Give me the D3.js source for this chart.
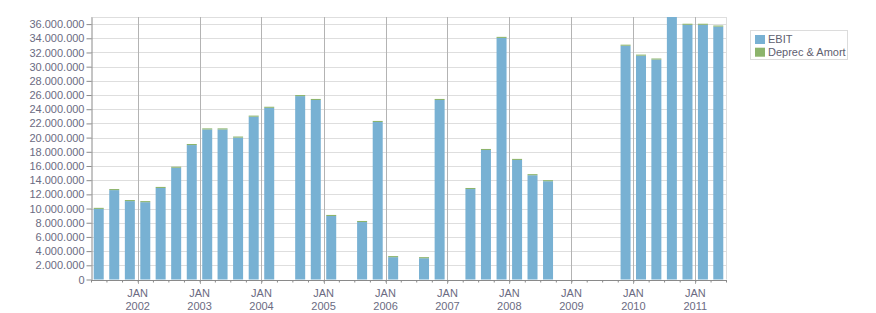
<!DOCTYPE html>
<html>
<head>
<meta charset="utf-8">
<script src="https://cdn.jsdelivr.net/npm/d3@7"></script>
<style>
  html, body { margin: 0; padding: 0; background: #fff; }
  svg { display: block; font-family: "Liberation Sans", Arial, sans-serif; }
</style>
</head>
<body>
<svg id="chart" width="876" height="313"></svg>
<script>
// ---- data ----
const quarterStarts = [
  "2001-04-01","2001-07-01","2001-10-01",
  "2002-01-01","2002-04-01","2002-07-01","2002-10-01",
  "2003-01-01","2003-04-01","2003-07-01","2003-10-01",
  "2004-01-01","2004-04-01","2004-07-01","2004-10-01",
  "2005-01-01","2005-04-01","2005-07-01","2005-10-01",
  "2006-01-01","2006-04-01","2006-07-01","2006-10-01",
  "2007-01-01","2007-04-01","2007-07-01","2007-10-01",
  "2008-01-01","2008-04-01","2008-07-01","2008-10-01",
  "2009-01-01","2009-04-01","2009-07-01","2009-10-01",
  "2010-01-01","2010-04-01","2010-07-01","2010-10-01",
  "2011-01-01","2011-04-01"
];
const ebit = [
  9950000, 12600000, 11050000,
  10900000, 12900000, 15750000, 18950000,
  21150000, 21150000, 20000000, 22950000,
  24200000, null, 25850000, 25300000,
  8950000, null, 8100000, 22200000,
  3150000, null, 3000000, 25300000,
  null, 12750000, 18250000, 34050000,
  16850000, 14700000, 13850000, null,
  null, null, null, 32950000,
  31550000, 31000000, 37000000, 35900000,
  35900000, 35650000
];
const deprec = [
  150000, 150000, 150000,
  150000, 150000, 150000, 150000,
  150000, 150000, 150000, 150000,
  150000, null, 150000, 150000,
  150000, null, 150000, 150000,
  150000, null, 150000, 150000,
  null, 150000, 150000, 150000,
  150000, 150000, 150000, null,
  null, null, null, 150000,
  150000, 150000, 0, 150000,
  150000, 150000
];
const seriesNames = ["EBIT", "Deprec & Amort"];
const seriesColors = ["#78b1d3", "#8cb46c"];
const yTickValues = [0,2e6,4e6,6e6,8e6,10e6,12e6,14e6,16e6,18e6,20e6,22e6,24e6,26e6,28e6,30e6,32e6,34e6,36e6];
const xDomain = ["2001-04-01", "2011-07-01"];
const yearTickLabelTop = "JAN";

// ---- setup ----
const parse = d3.utcParse("%Y-%m-%d");
const svg = d3.select("#chart");
const m = { left: 91, right: 150, top: 17, bottom: 33.5 };
const W = 876, H = 313;
const x = d3.scaleUtc().domain(xDomain.map(parse)).range([m.left, W - m.right]);
const totals = ebit.map((v, i) => (v || 0) + (deprec[i] || 0));
const y = d3.scaleLinear().domain([0, d3.max(totals)]).range([H - m.bottom, m.top]);

const locale = d3.formatLocale({ decimal: ",", thousands: ".", grouping: [3], currency: ["", ""] });
const fmt = locale.format(",.0f");

const rows = quarterStarts.map((s, i) => {
  const start = parse(s);
  const end = d3.utcMonth.offset(start, 3);
  return { start, end, mid: new Date((+start + +end) / 2), ebit: ebit[i], deprec: deprec[i] };
});

const textColor = "#6b6b82";

// horizontal grid
svg.append("g").selectAll("line").data(yTickValues.slice(1)).join("line")
  .attr("x1", m.left).attr("x2", W - m.right)
  .attr("y1", d => Math.round(y(d)) + 0.5).attr("y2", d => Math.round(y(d)) + 0.5)
  .attr("stroke", "#dedede").attr("stroke-width", 1);
// top frame & right frame
svg.append("line").attr("x1", m.left).attr("x2", W - m.right)
  .attr("y1", m.top + 0.5).attr("y2", m.top + 0.5).attr("stroke", "#dedede");
svg.append("line").attr("x1", W - m.right + 0.5).attr("x2", W - m.right + 0.5)
  .attr("y1", m.top).attr("y2", H - m.bottom).attr("stroke", "#dedede");

// vertical year grid
const years = d3.utcYear.range(d3.utcYear.ceil(x.domain()[0]), x.domain()[1]);
svg.append("g").selectAll("line").data(years).join("line")
  .attr("x1", d => Math.round(x(d)) + 0.5).attr("x2", d => Math.round(x(d)) + 0.5)
  .attr("y1", m.top).attr("y2", H - m.bottom + 4.5)
  .attr("stroke", "#b3b3b3").attr("stroke-width", 1);

// bars
const bw = 10;
const stack = svg.append("g");
rows.forEach(r => {
  if (r.ebit == null) return;
  const cx = x(r.mid);
  stack.append("rect")
    .attr("x", cx - bw / 2).attr("width", bw)
    .attr("y", y(r.ebit)).attr("height", y(0) - y(r.ebit))
    .attr("fill", seriesColors[0]);
  if (r.deprec) {
    stack.append("rect")
      .attr("x", cx - bw / 2).attr("width", bw)
      .attr("y", y(r.ebit + r.deprec)).attr("height", y(r.ebit) - y(r.ebit + r.deprec))
      .attr("fill", seriesColors[1]);
  }
});

// y axis
const yAxis = svg.append("g").attr("transform", `translate(${m.left + 0.5},0)`)
  .call(d3.axisLeft(y).tickValues(yTickValues).tickFormat(fmt).tickSize(5).tickPadding(2).tickSizeOuter(0));
yAxis.select(".domain").attr("stroke", "#8a8a8a");
yAxis.selectAll(".tick line").attr("stroke", "#8a8a8a");
yAxis.selectAll(".tick text").attr("fill", textColor).style("font-size", "11px")
  .style("font-family", "'Liberation Sans', Arial, sans-serif");

// x axis (quarter minor ticks)
const xAxis = svg.append("g").attr("transform", `translate(0,${H - m.bottom + 0.5})`)
  .call(d3.axisBottom(x).ticks(d3.utcMonth.every(3)).tickSize(2.5).tickFormat("").tickSizeOuter(0));
xAxis.select(".domain").attr("stroke", "#8a8a8a");
xAxis.selectAll(".tick line").attr("stroke", "#8a8a8a");

// year labels
const yl = svg.append("g").selectAll("g").data(years).join("g")
  .attr("transform", d => `translate(${x(d)},0)`)
  .attr("fill", textColor).style("font-size", "11px").attr("text-anchor", "middle");
yl.append("text").attr("y", 297).text(yearTickLabelTop);
yl.append("text").attr("y", 309.5).text(d => d3.utcFormat("%Y")(d));

// legend
const lg = svg.append("g");
lg.append("rect").attr("x", 750.5).attr("y", 30.5).attr("width", 97).attr("height", 29)
  .attr("fill", "#fff").attr("stroke", "#dcdcdc");
seriesNames.forEach((n, i) => {
  lg.append("rect").attr("x", 755).attr("y", 35 + i * 12.7).attr("width", 10).attr("height", 9)
    .attr("fill", seriesColors[i]);
  lg.append("text").attr("x", 768).attr("y", 43.3 + i * 12.7).text(n)
    .attr("fill", "#606070").style("font-size", "11px");
});
</script>
</body>
</html>
